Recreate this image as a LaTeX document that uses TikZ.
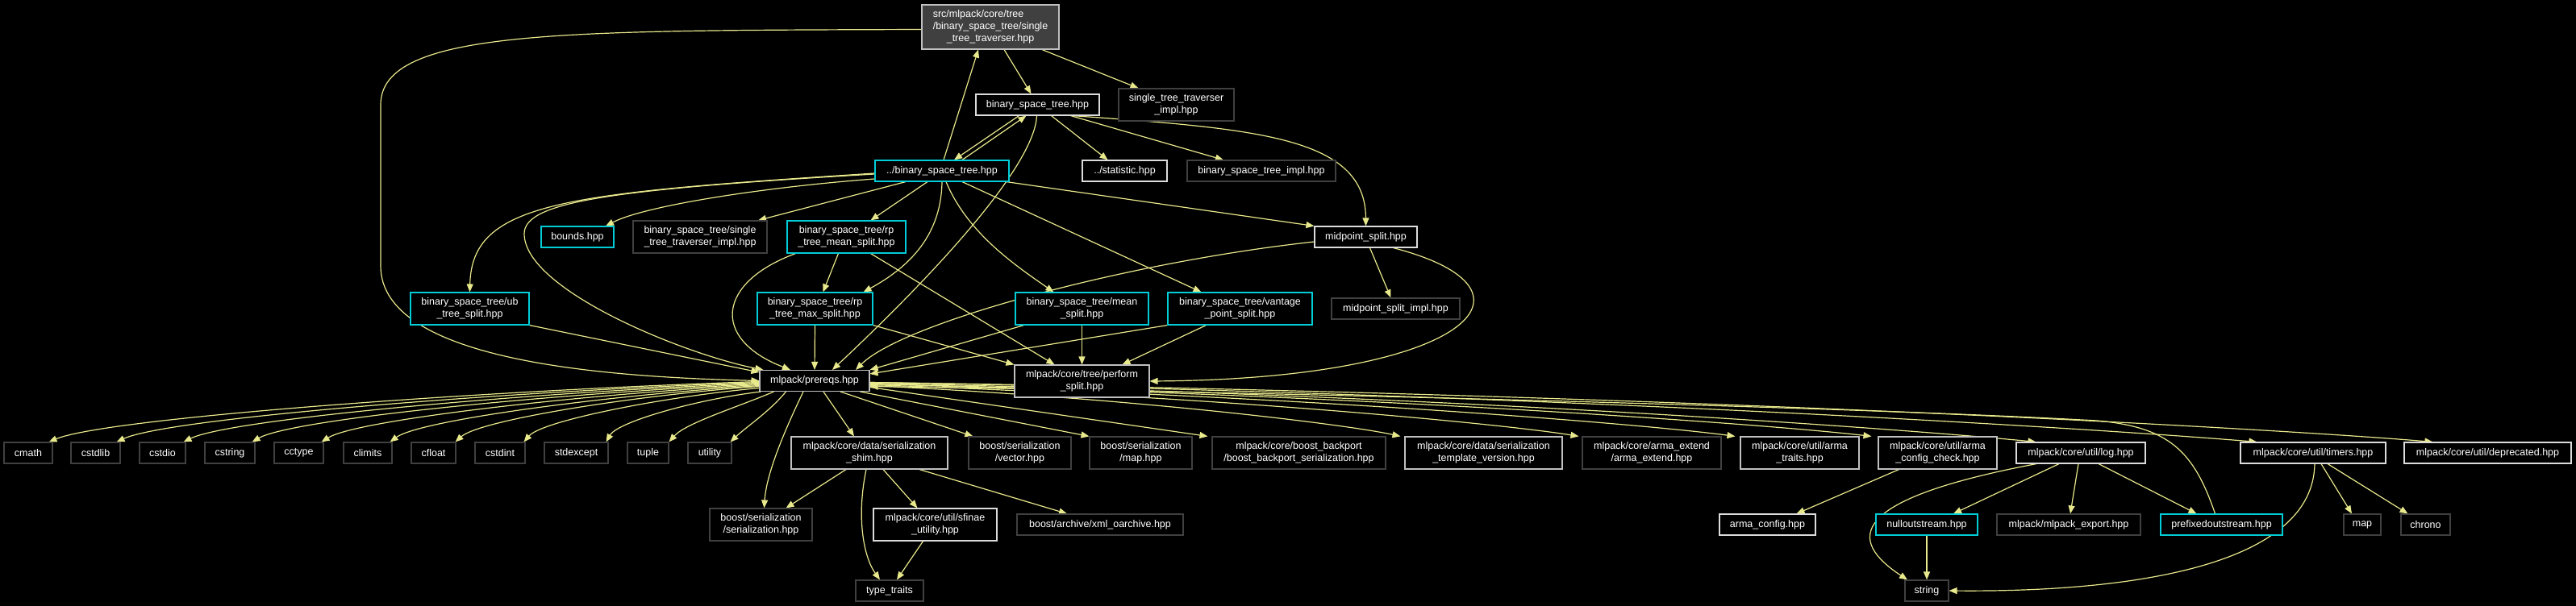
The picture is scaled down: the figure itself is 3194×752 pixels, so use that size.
\documentclass[tikz,border=0pt]{standalone}
\usepackage{fontspec}
\setmainfont{Liberation Sans}
\usetikzlibrary{arrows.meta}

\definecolor{edgeyellow}{RGB}{232,232,140}
\definecolor{linkcyan}{RGB}{0,205,215}
\definecolor{docgray}{RGB}{192,192,192}
\definecolor{doclight}{RGB}{220,220,220}
\definecolor{sysgray}{RGB}{64,64,64}

\pgfdeclarelayer{edges}
\pgfsetlayers{edges,main}

\begin{document}
\begin{tikzpicture}[x=1pt, y=-1pt,
  file/.style={rectangle, draw, line width=1.1pt, fill=black, text=white, inner sep=0pt,
    minimum height=26pt, align=center, font=\fontsize{12.5}{15}\selectfont},
  rootfile/.style={file, draw=docgray, fill=sysgray},
  cyanfile/.style={file, draw=linkcyan},
  whitefile/.style={file, draw=doclight},
  grayfile/.style={file, draw=docgray},
  sysfile/.style={file, draw=sysgray},
  tall/.style={minimum height=40pt},
  inc/.style={draw=edgeyellow, line width=1.2pt, -{Triangle[length=10pt,width=8pt]}}]

  % top part of the tree
  \node[rootfile, minimum width=170pt, minimum height=55pt] (root) at (1228,33.5)
    {\begin{tabular}{@{}l@{}}src/mlpack/core/tree\\/binary\_space\_tree/single\\
     \multicolumn{1}{@{}c@{}}{\_tree\_traverser.hpp}\end{tabular}};
  \node[whitefile, minimum width=153pt] (bst) at (1286.5,130) {binary\_space\_tree.hpp};
  \node[sysfile, tall, minimum width=143pt] (sttimpl) at (1458.5,130) {single\_tree\_traverser\\\_impl.hpp};
  \node[cyanfile, minimum width=166pt] (bstup) at (1168,212) {../binary\_space\_tree.hpp};
  \node[whitefile, minimum width=105pt] (statistic) at (1394.5,212) {../statistic.hpp};
  \node[sysfile, minimum width=184pt] (bstimpl) at (1564,212) {binary\_space\_tree\_impl.hpp};

  % splits
  \node[cyanfile, minimum width=90pt] (bounds) at (716,294) {bounds.hpp};
  \node[sysfile, tall, minimum width=166pt] (bststt) at (868,294) {binary\_space\_tree/single\\\_tree\_traverser\_impl.hpp};
  \node[cyanfile, tall, minimum width=147pt] (rpmean) at (1049.5,294) {binary\_space\_tree/rp\\\_tree\_mean\_split.hpp};
  \node[whitefile, minimum width=127pt] (midpoint) at (1693.5,294) {midpoint\_split.hpp};
  \node[cyanfile, tall, minimum width=147pt] (ubsplit) at (582.5,383) {binary\_space\_tree/ub\\\_tree\_split.hpp};
  \node[cyanfile, tall, minimum width=143pt] (rpmax) at (1010.5,383) {binary\_space\_tree/rp\\\_tree\_max\_split.hpp};
  \node[cyanfile, tall, minimum width=165pt] (meansplit) at (1341.5,383) {binary\_space\_tree/mean\\\_split.hpp};
  \node[cyanfile, tall, minimum width=179pt] (vpsplit) at (1537.5,383) {binary\_space\_tree/vantage\\\_point\_split.hpp};
  \node[sysfile, minimum width=159pt] (midimpl) at (1730.5,383) {midpoint\_split\_impl.hpp};
  \node[grayfile, minimum width=136pt] (prereqs) at (1010,472.5) {mlpack/prereqs.hpp};
  \node[grayfile, tall, minimum width=167pt] (perform) at (1341.5,473) {mlpack/core/tree/perform\\\_split.hpp};

  % headers included by prereqs
  \node[sysfile, minimum width=60pt] (cmath) at (35,562) {cmath};
  \node[sysfile, minimum width=61pt] (cstdlib) at (118.5,562) {cstdlib};
  \node[sysfile, minimum width=57pt] (cstdio) at (201.5,562) {cstdio};
  \node[sysfile, minimum width=62pt] (cstring) at (285,562) {cstring};
  \node[sysfile, minimum width=61pt] (cctype) at (370.5,562) {cctype};
  \node[sysfile, minimum width=60pt] (climits) at (456,562) {climits};
  \node[sysfile, minimum width=55pt] (cfloat) at (537.5,562) {cfloat};
  \node[sysfile, minimum width=62pt] (cstdint) at (620,562) {cstdint};
  \node[sysfile, minimum width=79pt] (stdexcept) at (714.5,562) {stdexcept};
  \node[sysfile, minimum width=51pt] (tuple) at (803.5,562) {tuple};
  \node[sysfile, minimum width=54pt] (utility) at (880,562) {utility};
  \node[grayfile, tall, minimum width=194pt] (shim) at (1078,562) {mlpack/core/data/serialization\\\_shim.hpp};
  \node[sysfile, tall, minimum width=127pt] (vector) at (1264.5,562) {boost/serialization\\/vector.hpp};
  \node[sysfile, tall, minimum width=127pt] (mapser) at (1414.5,562) {boost/serialization\\/map.hpp};
  \node[sysfile, tall, minimum width=215pt] (backport) at (1610.5,562) {mlpack/core/boost\_backport\\/boost\_backport\_serialization.hpp};
  \node[grayfile, tall, minimum width=195pt] (tmplver) at (1839.5,562) {mlpack/core/data/serialization\\\_template\_version.hpp};
  \node[sysfile, tall, minimum width=172pt] (armaext) at (2048,562) {mlpack/core/arma\_extend\\/arma\_extend.hpp};
  \node[grayfile, tall, minimum width=147pt] (armatraits) at (2231.5,562) {mlpack/core/util/arma\\\_traits.hpp};
  \node[grayfile, tall, minimum width=147pt] (armacheck) at (2402.5,562) {mlpack/core/util/arma\\\_config\_check.hpp};
  \node[whitefile, minimum width=160pt] (log) at (2580,562) {mlpack/core/util/log.hpp};
  \node[whitefile, minimum width=180pt] (timers) at (2868,562) {mlpack/core/util/timers.hpp};
  \node[whitefile, minimum width=207pt] (deprecated) at (3084.5,562) {mlpack/core/util/deprecated.hpp};

  % lower rows
  \node[sysfile, tall, minimum width=127pt] (serialization) at (943.5,651) {boost/serialization\\/serialization.hpp};
  \node[whitefile, tall, minimum width=153pt] (sfinae) at (1159.5,651) {mlpack/core/util/sfinae\\\_utility.hpp};
  \node[sysfile, minimum width=206pt] (xml) at (1364,651) {boost/archive/xml\_oarchive.hpp};
  \node[whitefile, minimum width=119pt] (armaconfig) at (2191.5,651) {arma\_config.hpp};
  \node[cyanfile, minimum width=126pt] (nullout) at (2389,651) {nulloutstream.hpp};
  \node[sysfile, minimum width=178pt] (export) at (2565,651) {mlpack/mlpack\_export.hpp};
  \node[cyanfile, minimum width=151pt] (prefixed) at (2754.5,651) {prefixedoutstream.hpp};
  \node[sysfile, minimum width=46pt] (stdmap) at (2929,651) {map};
  \node[sysfile, minimum width=61pt] (chrono) at (3007.5,651) {chrono};
  \node[sysfile, minimum width=84pt] (typetraits) at (1103,733) {type\_traits};
  \node[sysfile, minimum width=54pt] (string) at (2389,733) {string};

  \begin{pgfonlayer}{edges}
  \fill[black] (0,0) rectangle (3194,752);

  % edges of the upper part
  \draw[inc] ([xshift=17pt]root.south) -- ([xshift=-8pt]bst.north);
  \draw[inc] ([xshift=64pt]root.south) -- ([xshift=-47pt]sttimpl.north);
  \draw[inc] ([yshift=-3pt]root.west) .. controls (700,38) and (472,36) .. (472,130) -- (472,330)
    .. controls (472,450) and (760,468) .. (prereqs.west);
  \draw[inc] ([xshift=2pt]bstup.north) -- ([xshift=-15pt]root.south);
  \draw[inc] ([xshift=-23pt]bst.south) -- ([xshift=15pt]bstup.north);
  \draw[inc] ([xshift=25pt]bstup.north) -- ([xshift=-14pt]bst.south);
  \draw[inc] ([xshift=-1pt]bst.south) .. controls (1283,200) and (1180,320) .. ([xshift=22pt]prereqs.north);
  \draw[inc] ([xshift=17pt]bst.south) -- ([xshift=-21pt]statistic.north);
  \draw[inc] ([xshift=41pt]bst.south) -- ([xshift=-47pt]bstimpl.north);
  \draw[inc] ([xshift=43pt]bst.south) .. controls (1560,160) and (1693,170) .. (midpoint.north);

  % edges from ../binary_space_tree.hpp
  \draw[inc] ([yshift=-10pt]bstup.west) .. controls (950,232) and (800,255) .. ([xshift=35pt]bounds.north);
  \draw[inc] ([xshift=-45pt]bstup.south) -- ([xshift=72pt]bststt.north);
  \draw[inc] ([yshift=-3pt]bstup.west) .. controls (700,240) and (585,250) .. (ubsplit.north);
  \draw[inc] ([yshift=-4pt]bstup.west) .. controls (760,235) and (650,250) .. (650,290)
    .. controls (650,360) and (850,440) .. ([xshift=5pt]prereqs.north west);
  \draw[inc] ([xshift=-18pt]bstup.south) -- ([xshift=30pt]rpmean.north);
  \draw[inc] (bstup.south) .. controls (1167,290) and (1130,330) .. ([xshift=60pt]rpmax.north);
  \draw[inc] ([xshift=5pt]bstup.south) .. controls (1200,290) and (1260,330) .. ([xshift=-35pt]meansplit.north);
  \draw[inc] ([xshift=25pt]bstup.south) -- ([xshift=-48pt]vpsplit.north);
  \draw[inc] ([xshift=-4pt]bstup.south east) -- (midpoint.north west);

  % edges between the splits
  \draw[inc] ([xshift=-10pt]rpmean.south) -- ([xshift=10pt]rpmax.north);
  \draw[inc] ([xshift=-63pt]rpmean.south) .. controls (890,350) and (880,420) .. ([xshift=-30pt]prereqs.north);
  \draw[inc] ([xshift=30pt]rpmean.south) -- ([xshift=-34pt]perform.north);
  \draw[inc] (rpmax.south) -- (prereqs.north);
  \draw[inc] (rpmax.south east) -- (perform.north west);
  \draw[inc] (ubsplit.south east) -- ([yshift=-3pt]prereqs.north west);
  \draw[inc] ([xshift=-72pt]meansplit.south) -- (prereqs.north east);
  \draw[inc] (meansplit.south) -- (perform.north);
  \draw[inc] ([xshift=-42pt]vpsplit.south) -- ([xshift=50pt]perform.north);
  \draw[inc] (vpsplit.south west) -- ([yshift=-5pt]prereqs.north east);
  \draw[inc] ([yshift=-6pt]midpoint.west) .. controls (1400,325) and (1120,400) .. ([xshift=51pt]prereqs.north);
  \draw[inc] ([xshift=5pt]midpoint.south) -- ([xshift=-6pt]midimpl.north);
  \draw[inc] ([xshift=34pt]midpoint.south) .. controls (1930,360) and (1820,470) .. (perform.east);

  % prereqs to the standard headers
  \draw[inc] ([yshift=-1pt]prereqs.west) .. controls (589,485) and (131,519) .. ([xshift=-5pt]cmath.north east);
  \draw[inc] ([yshift=-2pt]prereqs.west) .. controls (623,486) and (208,519) .. ([xshift=-5pt]cstdlib.north east);
  \draw[inc] ([yshift=-3pt]prereqs.west) .. controls (656,487) and (285,520) .. ([xshift=-3pt]cstdio.north east);
  \draw[inc] ([yshift=-4pt]prereqs.west) .. controls (690,488) and (362,520) .. ([xshift=-4pt]cstring.north east);
  \draw[inc] ([yshift=-5pt]prereqs.west) .. controls (724,489) and (442,521) .. ([xshift=-3pt]cctype.north east);
  \draw[inc] ([yshift=-6pt]prereqs.west) .. controls (759,490) and (521,521) .. ([xshift=-3pt]climits.north east);
  \draw[inc] ([yshift=-7pt]prereqs.west) .. controls (791,490) and (595,521) .. ([xshift=-1pt]cfloat.north east);
  \draw[inc] ([yshift=-9pt]prereqs.west) .. controls (825,492) and (672,522) .. ([xshift=-2pt]cstdint.north east);
  \draw[inc] ([xshift=2pt]prereqs.south west) .. controls (867,495) and (766,523) .. ([xshift=-3pt]stdexcept.north east);
  \draw[inc] ([xshift=18pt]prereqs.south west) .. controls (915,505) and (850,525) .. (tuple.north east);
  \draw[inc] ([xshift=33pt]prereqs.south west) .. controls (955,510) and (925,530) .. ([xshift=-2pt]utility.north east);

  % prereqs to the mlpack and boost headers
  \draw[inc] ([xshift=-14pt]prereqs.south) .. controls (970,540) and (950,590) .. ([xshift=4pt]serialization.north);
  \draw[inc] ([xshift=11pt]prereqs.south) -- ([xshift=-19pt]shim.north);
  \draw[inc] ([xshift=32pt]prereqs.south) -- ([xshift=6pt]vector.north west);
  \draw[inc] ([xshift=-12pt]prereqs.south east) -- (mapser.north west);
  \draw[inc] ([yshift=-8pt]prereqs.east) -- ([xshift=-5pt]backport.north west);
  \draw[inc] ([yshift=-6pt]prereqs.east) .. controls (1408,494) and (1671,527) .. ([xshift=-5pt]tmplver.north west);
  \draw[inc] ([yshift=-5pt]prereqs.east) .. controls (1518,492) and (1870,527) .. ([xshift=-4pt]armaext.north west);
  \draw[inc] ([yshift=-4pt]prereqs.east) .. controls (1615,491) and (2045,527) .. ([xshift=-6pt]armatraits.north west);
  \draw[inc] ([yshift=-4pt]prereqs.east) .. controls (1700,490) and (2197,527) .. ([xshift=-8pt]armacheck.north west);
  \draw[inc] ([yshift=-3pt]prereqs.east) .. controls (1800,490) and (2380,534) .. ([xshift=25pt]log.north west);
  \draw[inc] ([yshift=-2pt]prereqs.east) .. controls (1940,489) and (2627,534) .. ([xshift=21pt]timers.north west);
  \draw[inc] ([yshift=-2pt]prereqs.east) .. controls (2047,488) and (2823,532) .. ([xshift=36pt]deprecated.north west);
  \draw[inc] ([xshift=-8pt]prefixed.north) .. controls (2720,560) and (2690,530) .. (2600,522)
    .. controls (2300,505) and (1500,485) .. ([yshift=-7pt]prereqs.east);

  % lower edges
  \draw[inc] ([xshift=-29pt]shim.south) -- ([xshift=31pt]serialization.north);
  \draw[inc] ([xshift=-4pt]shim.south) .. controls (1062,640) and (1070,690) .. ([xshift=-12pt]typetraits.north);
  \draw[inc] ([xshift=17pt]shim.south) -- ([xshift=-22pt]sfinae.north);
  \draw[inc] ([xshift=62pt]shim.south) -- ([xshift=-41pt]xml.north);
  \draw[inc] ([xshift=-15pt]sfinae.south) -- ([xshift=9pt]typetraits.north);
  \draw[inc] ([xshift=-48pt]armacheck.south) -- ([xshift=36pt]armaconfig.north);
  \draw[inc] ([xshift=-27pt]log.south) -- ([xshift=33pt]nullout.north);
  \draw[inc] ([xshift=-3pt]log.south) -- ([xshift=2pt]export.north);
  \draw[inc] ([xshift=22pt]log.south) -- ([xshift=-31pt]prefixed.north);
  \draw[inc] ([xshift=-55pt]log.south) .. controls (2290,620) and (2290,670) .. ([xshift=-24pt]string.north);
  \draw[inc] (nullout.south) -- (string.north);
  \draw[inc] ([xshift=2pt]timers.south) .. controls (2868,700) and (2650,735) .. (string.east);
  \draw[inc] ([xshift=10pt]timers.south) -- ([xshift=-13pt]stdmap.north);
  \draw[inc] ([xshift=18pt]timers.south) -- ([xshift=-22pt]chrono.north);
  \end{pgfonlayer}

  \useasboundingbox (0,0) rectangle (3194,752);
\end{tikzpicture}
\end{document}
